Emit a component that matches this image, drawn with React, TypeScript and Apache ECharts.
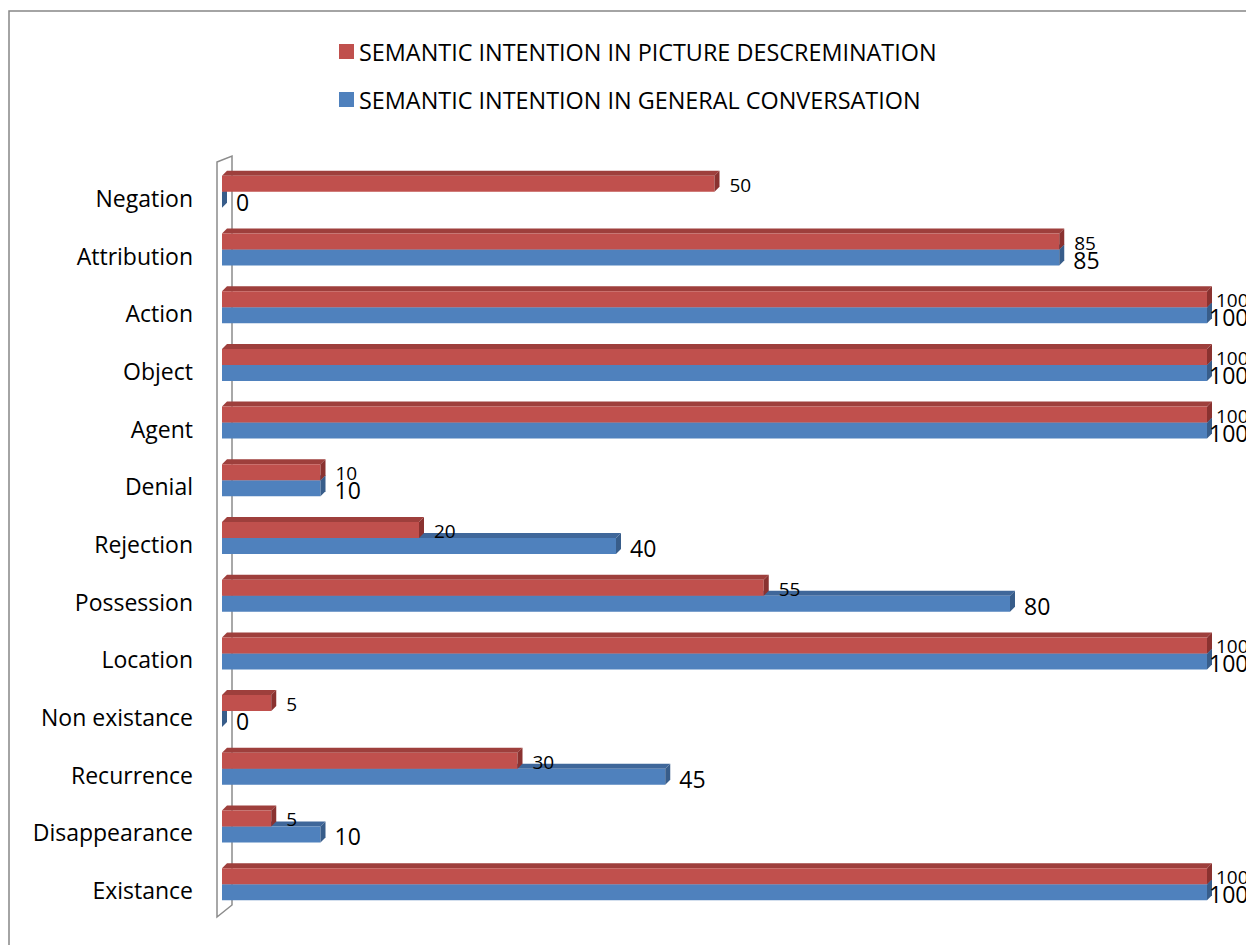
import React, { useEffect, useRef } from "react";
import * as echarts from "echarts";

const categories = [
  "Existance",
  "Disappearance",
  "Recurrence",
  "Non existance",
  "Location",
  "Possession",
  "Rejection",
  "Denial",
  "Agent",
  "Object",
  "Action",
  "Attribution",
  "Negation",
];
const pictureValues = [100, 5, 30, 5, 100, 55, 20, 10, 100, 100, 100, 85, 50];
const conversationValues = [100, 10, 45, 0, 100, 80, 40, 10, 100, 100, 100, 85, 0];

const SERIES_PICTURE = "SEMANTIC INTENTION IN PICTURE DESCREMINATION";
const SERIES_CONV = "SEMANTIC INTENTION IN GENERAL CONVERSATION";

const FONT = "'Open Sans', 'Noto Sans', sans-serif";
const W = 1246;
const H = 945;

function make3DRender(kind: "red" | "blue") {
  const front = kind === "red" ? "#C0504D" : "#4F81BD";
  const top = kind === "red" ? "#9E3F3C" : "#3F679A";
  const side = kind === "red" ? "#8A3230" : "#385D8A";
  const barH = 16;
  const d = 5;
  return (params: any, api: any) => {
    const v = api.value(0);
    const ci = api.value(1);
    const p0 = api.coord([0, ci]);
    const p1 = api.coord([v, ci]);
    const c = p0[1];
    const y0 = kind === "red" ? c - 6 - barH : c - 6;
    const y1 = y0 + barH;
    const x0 = p0[0];
    const x1 = p1[0];
    const children: any[] = [
      {
        type: "polygon",
        shape: { points: [[x0, y0], [x0 + d, y0 - d], [x1 + d, y0 - d], [x1, y0]] },
        style: { fill: top },
      },
      {
        type: "rect",
        shape: { x: x0, y: y0, width: Math.max(x1 - x0, 0), height: barH },
        style: { fill: front },
      },
      {
        type: "polygon",
        shape: { points: [[x1, y0], [x1 + d, y0 - d], [x1 + d, y1 - d], [x1, y1]] },
        style: { fill: side },
      },
    ];
    const lx = kind === "red" ? Math.min(x1 + 15, W - 30) : Math.min(x1 + 14, W - 37);
    children.push({
      type: "text",
      style: {
        text: String(v),
        x: lx,
        y: kind === "red" ? y0 + barH / 2 + 1 : y0 + barH / 2 + 2,
        fill: "#000",
        fontSize: kind === "red" ? 19 : 23,
        fontFamily: FONT,
        verticalAlign: "middle",
        align: "left",
      },
    });
    return { type: "group", children };
  };
}

export default function App() {
  const ref = useRef<HTMLDivElement>(null);
  useEffect(() => {
    if (!ref.current) return;
    const chart = echarts.init(ref.current, undefined, { renderer: "svg" });
    const option: any = {
      animation: false,
      backgroundColor: "#ffffff",
      legend: {
        orient: "vertical",
        left: 339,
        top: 39.5,
        padding: 0,
        itemWidth: 15,
        itemHeight: 15,
        itemGap: 24,
        icon: "rect",
        data: [SERIES_PICTURE, SERIES_CONV],
        textStyle: { fontSize: 23.4, lineHeight: 24, color: "#000", fontFamily: FONT },
      },
      grid: { left: 222, right: 39, top: 169, bottom: H - 919 },
      xAxis: { type: "value", min: 0, max: 100, show: false },
      yAxis: {
        type: "category",
        data: categories,
        axisLine: { show: false },
        axisTick: { show: false },
        splitLine: { show: false },
        axisLabel: {
          color: "#000",
          fontSize: 23,
          fontFamily: FONT,
          margin: 29,
        },
      },
      graphic: [
        {
          type: "rect",
          shape: { x: 9, y: 11, width: 1400, height: 1200 },
          style: { fill: "none", stroke: "#868686", lineWidth: 1.5 },
          silent: true,
          z: -10,
        },
        {
          type: "polygon",
          shape: { points: [[217, 162], [232, 156], [232, 905], [217, 917]] },
          style: { fill: "none", stroke: "#8C8C8C", lineWidth: 1.5 },
          silent: true,
          z: -5,
        },
      ],
      series: [
        {
          name: SERIES_CONV,
          type: "custom",
          itemStyle: { color: "#4F81BD" },
          encode: { x: 0, y: 1 },
          data: conversationValues.map((v, i) => [v, i]),
          renderItem: make3DRender("blue"),
          z: 2,
        },
        {
          name: SERIES_PICTURE,
          type: "custom",
          itemStyle: { color: "#C0504D" },
          encode: { x: 0, y: 1 },
          data: pictureValues.map((v, i) => [v, i]),
          renderItem: make3DRender("red"),
          z: 3,
        },
      ],
    };
    chart.setOption(option);
    return () => chart.dispose();
  }, []);
  return (
    <div
      ref={ref}
      style={{ position: "fixed", left: 0, top: 0, width: W, height: H, background: "#fff" }}
    />
  );
}
